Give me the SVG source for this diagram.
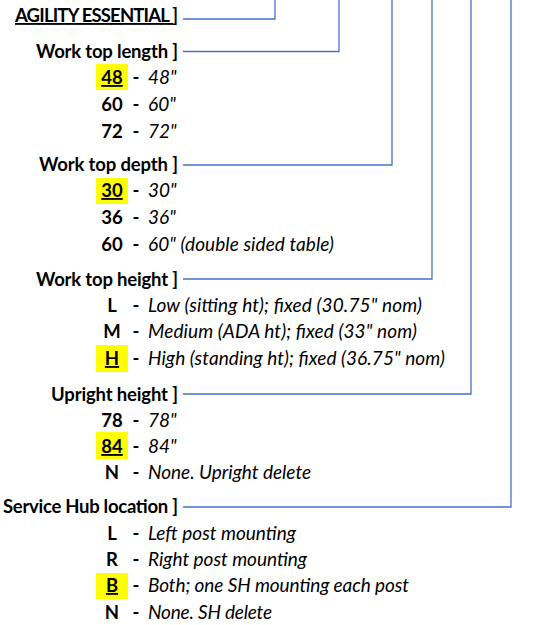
<svg xmlns="http://www.w3.org/2000/svg" width="540" height="625" viewBox="0 0 540 625">
<style>
.h{font-family:Lato,"Open Sans","Liberation Sans",sans-serif;font-weight:bold;font-size:18.5px;fill:#000;text-anchor:end}
.k{font-family:Lato,"Open Sans","Liberation Sans",sans-serif;font-weight:bold;font-size:18.5px;fill:#000;text-anchor:middle}
.u{text-decoration:underline}
.d{font-family:Lato,"Open Sans","Liberation Sans",sans-serif;font-weight:bold;font-size:18.5px;fill:#000;text-anchor:middle}
.v{font-family:Lato,"Open Sans","Liberation Sans",sans-serif;font-style:italic;font-size:19px;fill:#000}
.hl{fill:#FFFF00}
.c{fill:none;stroke:#4472C4;stroke-width:1.3}
</style>
<rect width="540" height="625" fill="#fff"/>
<g id="connectors">
<polyline class="c" points="183,19 275,19 275,0"/>
<polyline class="c" points="183,51.5 339,51.5 339,0"/>
<polyline class="c" points="183,165 392,165 392,0"/>
<polyline class="c" points="183,279 432,279 432,0"/>
<polyline class="c" points="183,394 471,394 471,0"/>
<polyline class="c" points="183,507 511,507 511,0"/>
</g>
<g id="title">
<text class="h u" x="178" y="22" textLength="163">AGILITY ESSENTIAL ]</text>
</g>
<g id="work-top-length">
<text class="h" x="178" y="58" textLength="142">Work top length ]</text>
<rect class="hl" x="96" y="64" width="32" height="26"/>
<text class="k u" x="112" y="84">48</text><text class="d" x="136" y="84">-</text><text class="v" x="148" y="84">48"</text>
<text class="k" x="112" y="111">60</text><text class="d" x="136" y="111">-</text><text class="v" x="148" y="111">60"</text>
<text class="k" x="112" y="138">72</text><text class="d" x="136" y="138">-</text><text class="v" x="148" y="138">72"</text>
</g>
<g id="work-top-depth">
<text class="h" x="178" y="171" textLength="139">Work top depth ]</text>
<rect class="hl" x="96" y="178" width="32" height="26"/>
<text class="k u" x="112" y="197">30</text><text class="d" x="136" y="197">-</text><text class="v" x="148" y="197">30"</text>
<text class="k" x="112" y="224">36</text><text class="d" x="136" y="224">-</text><text class="v" x="148" y="224">36"</text>
<text class="k" x="112" y="251">60</text><text class="d" x="136" y="251">-</text><text class="v" x="148" y="251" textLength="186">60" (double sided table)</text>
</g>
<g id="work-top-height">
<text class="h" x="178" y="286" textLength="142">Work top height ]</text>
<text class="k" x="112" y="312">L</text><text class="d" x="136" y="312">-</text><text class="v" x="148" y="312" textLength="274">Low (sitting ht); fixed (30.75" nom)</text>
<text class="k" x="112" y="338">M</text><text class="d" x="136" y="338">-</text><text class="v" x="148" y="338" textLength="269">Medium (ADA ht); fixed (33" nom)</text>
<rect class="hl" x="96" y="345" width="32" height="27"/>
<text class="k u" x="112" y="365">H</text><text class="d" x="136" y="365">-</text><text class="v" x="148" y="365" textLength="297">High (standing ht); fixed (36.75" nom)</text>
</g>
<g id="upright-height">
<text class="h" x="178" y="401" textLength="127">Upright height ]</text>
<text class="k" x="112" y="427">78</text><text class="d" x="136" y="427">-</text><text class="v" x="148" y="427">78"</text>
<rect class="hl" x="96" y="432" width="32" height="27"/>
<text class="k u" x="112" y="453">84</text><text class="d" x="136" y="453">-</text><text class="v" x="148" y="453">84"</text>
<text class="k" x="112" y="479">N</text><text class="d" x="136" y="479">-</text><text class="v" x="148" y="479" textLength="163">None. Upright delete</text>
</g>
<g id="service-hub-location">
<text class="h" x="178" y="513" textLength="175">Service Hub location ]</text>
<text class="k" x="112" y="540">L</text><text class="d" x="136" y="540">-</text><text class="v" x="148" y="540" textLength="148">Left post mounting</text>
<text class="k" x="112" y="566">R</text><text class="d" x="136" y="566">-</text><text class="v" x="148" y="566" textLength="159">Right post mounting</text>
<rect class="hl" x="96" y="573" width="32" height="26"/>
<text class="k u" x="112" y="592">B</text><text class="d" x="136" y="592">-</text><text class="v" x="148" y="592" textLength="261">Both; one SH mounting each post</text>
<text class="k" x="112" y="619">N</text><text class="d" x="136" y="619">-</text><text class="v" x="148" y="619" textLength="124">None. SH delete</text>
</g>
</svg>
